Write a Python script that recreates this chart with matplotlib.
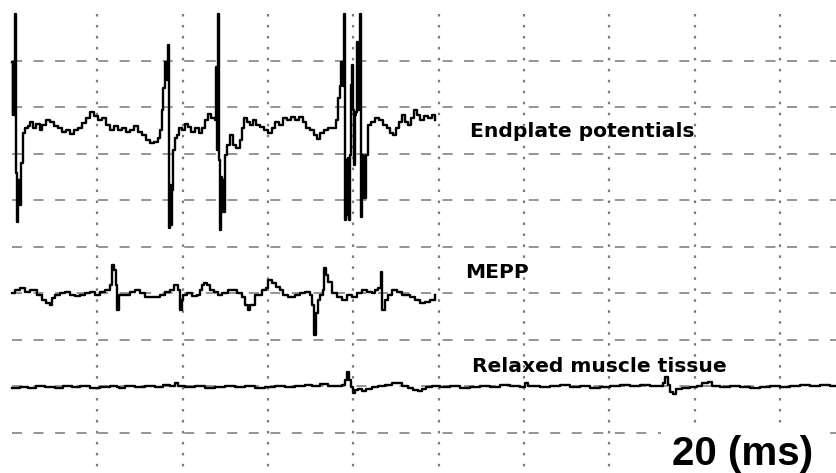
import matplotlib
matplotlib.use('Agg')
import matplotlib.pyplot as plt
import numpy as np

# recording scale
SAMPLES_PER_MS = 4.265   # 20 ms per grid division
COUNTS_PER_DIV = 46.5    # vertical grid division in ADC counts

# trace baselines, in grid divisions above the bottom grid line
endplate_offset = 6.56
mepp_offset = 3.01
relaxed_offset = 0.99

# endplate potentials (sample index, counts above baseline)
endplate_samples = [0, 1, 1, 2, 3, 4, 5, 5, 6, 7, 7, 8, 9, 11, 11, 13, 13, 16, 18, 21,
                    24, 28, 30, 34, 38, 42, 46, 50, 54, 58, 62, 66, 70, 74, 78, 82, 86, 90, 94, 98,
                    102, 106, 110, 114, 118, 122, 126, 130, 134, 138, 142, 146, 148, 150, 151, 153, 153, 154, 155, 156,
                    157, 158, 159, 160, 161, 163, 163, 165, 167, 170, 173, 176, 179, 183, 187, 190, 193, 196, 199, 202,
                    203, 204, 205, 206, 207, 208, 209, 210, 211, 212, 213, 215, 215, 218, 218, 221, 221, 224, 228, 230,
                    232, 235, 238, 241, 244, 248, 252, 256, 260, 263, 267, 271, 275, 279, 283, 287, 291, 294, 298, 302,
                    305, 308, 312, 316, 320, 324, 326, 328, 329, 331, 332, 333, 334, 335, 336, 337, 338, 339, 340, 341,
                    342, 343, 344, 345, 346, 347, 348, 349, 350, 351, 352, 353, 354, 356, 356, 359, 363, 367, 371, 375,
                    378, 381, 384, 387, 390, 393, 396, 399, 402, 405, 408, 412, 416, 420, 423]
endplate_counts = [66, 13, 66, 13, 114, -45, -45, -94, -52, -77, -52, -77, -35, -35, -5, -5, 0, 2, 6, 0,
                   4, -2, 3, 8, 6, 2, 0, -4, -2, -6, -2, 0, 5, 10, 16, 12, 8, 10, 3, -2,
                   2, -2, 0, -4, -2, 2, -4, -7, -12, -15, -14, -10, -2, 18, 40, 40, 66, 66, 48, 83,
                   -100, -57, -97, -62, -22, -22, -10, -7, 0, -2, 4, 1, -4, 0, -5, 0, 8, 14, 10, 10,
                   8, 61, -22, 114, -32, -102, -49, -84, -52, -84, -27, -27, -17, -17, -7, -7, -17, -20, -12, 0,
                   10, 6, 3, 8, 3, 1, -2, -5, 0, 6, 3, 10, 8, 11, 8, 11, 6, 0, -2, -7,
                   -11, -5, -2, 0, 0, 8, 30, 42, 66, 42, 114, -92, -32, -87, -30, -92, -27, 43, 63, 18,
                   -37, 13, 16, 86, 18, 83, 114, -89, -27, -70, -28, -70, -27, -27, 3, 6, 10, 8, 3, 0,
                   -5, -7, 0, 6, 13, 6, 3, 10, 18, 13, 8, 12, 10, 13, 8]

# miniature endplate potentials
mepp_samples = [0, 3, 8, 13, 18, 24, 25, 30, 34, 38, 40, 43, 48, 53, 58, 63, 68, 73, 78, 83,
                88, 93, 98, 100, 102, 104, 105, 107, 113, 118, 123, 128, 133, 138, 143, 148, 153, 158, 162, 166,
                168, 170, 171, 175, 180, 185, 188, 190, 192, 195, 198, 202, 206, 210, 216, 221, 225, 230, 233, 236,
                238, 243, 250, 254, 256, 260, 264, 268, 271, 276, 283, 288, 293, 298, 300, 302, 304, 306, 308, 311,
                312, 314, 316, 320, 325, 330, 335, 340, 345, 350, 355, 360, 363, 366, 369, 370, 373, 376, 380, 385,
                390, 393, 398, 403, 408, 413, 418, 423]
mepp_counts = [0, 3, 5, 1, 3, 3, -2, -7, -10, -12, -5, -2, 0, 1, -2, -3, -2, 0, 1, -2,
               1, 3, 8, 28, 23, 8, -17, -2, -2, 1, 3, 0, -4, -4, -4, -2, 1, 3, 8, 3,
               -17, -7, -2, 0, -3, -2, 3, 8, 10, 8, 3, 1, -2, 0, 3, 3, 0, -4, -12, -17,
               -12, -2, 3, 5, 13, 10, 6, 3, -2, -4, -2, 0, 1, -2, -12, -42, -20, -7, -2, 3,
               25, 18, 11, 0, -4, -7, -2, -4, 0, 3, 1, 0, 3, 5, 21, -17, -7, -2, 3, 1,
               -2, -2, -4, -7, -10, -9, -7, -2]

# relaxed muscle tissue
relaxed_samples = [0, 8, 16, 24, 33, 43, 51, 60, 68, 78, 88, 98, 105, 107, 113, 123, 133, 143, 151, 158,
                   163, 166, 173, 183, 193, 203, 213, 223, 233, 243, 253, 263, 273, 283, 293, 300, 308, 316, 324, 330,
                   333, 335, 337, 339, 341, 343, 346, 350, 354, 360, 366, 373, 380, 386, 390, 396, 401, 406, 410, 414,
                   420, 428, 438, 448, 458, 468, 478, 488, 498, 508, 513, 516, 528, 538, 548, 558, 568, 578, 588, 598,
                   608, 618, 628, 638, 646, 651, 653, 656, 658, 661, 664, 670, 678, 685, 690, 696, 700, 708, 718, 728,
                   738, 748, 758, 768, 778, 788, 798, 808, 818, 825]
relaxed_counts = [-1, 0, -1, 1, 0, -1, 1, 0, 1, -1, 0, 1, 0, -1, 1, 0, 1, 0, 2, 1,
                  4, 1, 0, 1, -1, 0, 1, 0, 1, -1, 0, 1, 0, 1, 2, 1, 3, 1, 1, 2,
                  7, 15, 7, 0, -6, -3, -2, -4, -2, 0, 1, 2, 4, 4, 1, -1, -3, -4, -2, 0,
                  1, 0, 1, -1, 0, 1, 0, 2, 1, 0, 4, 1, 0, 1, 2, 0, 1, -1, 0, 1,
                  2, 1, 2, 1, 1, 4, 10, 2, -5, -7, -2, -1, 0, 1, 4, 5, 1, 0, 1, 0,
                  -1, 0, 1, 0, 1, 2, 1, 2, 1, 1]

labels = ['Endplate potentials', 'MEPP', 'Relaxed muscle tissue']
label_pos = [(107.4, 6.37), (106.2, 3.33), (107.9, 1.31)]
scale_label = '20 (ms)'

grid_ms = [20, 40, 60, 80, 100, 120, 140, 160, 180]
grid_div = [0, 1, 2, 3, 4, 5, 6, 7, 8]

plt.rcParams['lines.scale_dashes'] = False

fig = plt.figure(figsize=(8.37, 4.73), dpi=100)
ax = fig.add_axes([0, 0, 1, 1])
ax.set_xlim(-2.81, 193.4)
ax.set_ylim(-0.86, 9.31)
ax.axis('off')

# oscilloscope grid
for y in grid_div:
    ax.plot([0, 193.4], [y, y], color='#8c8c8c', lw=1.3,
            linestyle=(0, (7.2, 8.3)), zorder=1)
for x in grid_ms:
    ax.plot([x, x], [9.0, -0.86], color='#7a7a7a', lw=1.6,
            linestyle=(0, (1.8, 6.1)), zorder=1)

traces = [(endplate_samples, endplate_counts, endplate_offset),
          (mepp_samples, mepp_counts, mepp_offset),
          (relaxed_samples, relaxed_counts, relaxed_offset)]
for samples, counts, offset in traces:
    t = np.array(samples) / SAMPLES_PER_MS
    v = np.array(counts) / COUNTS_PER_DIV + offset
    ax.plot(t, v, color='black', lw=1.7, drawstyle='steps-post', zorder=3)

for text, (x, y) in zip(labels, label_pos):
    ax.text(x, y, text, fontsize=14.6, fontweight='bold', family='DejaVu Sans',
            ha='left', va='baseline', zorder=4)

ax.text(154.7, -0.69, scale_label, fontsize=29, fontweight='bold',
        family='Liberation Sans', ha='left', va='baseline', zorder=4,
        bbox=dict(facecolor='white', edgecolor='none', pad=8))

fig.savefig('out.png', dpi=100)
